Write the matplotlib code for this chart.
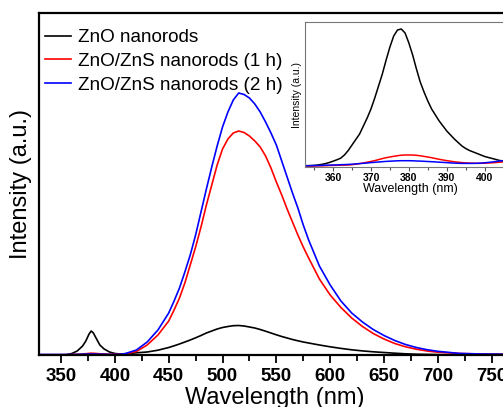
import numpy as np
import matplotlib
matplotlib.use('Agg')
import matplotlib.pyplot as plt
from matplotlib.ticker import MultipleLocator

plt.rcParams['font.family'] = ['Liberation Sans', 'DejaVu Sans']

# main spectra (wavelength in nm, intensity in arbitrary units)
wl = [330, 340, 350, 355, 360, 365, 370, 373, 376, 378, 380, 383, 386, 390, 395,
      400, 405, 410, 420, 430, 440, 450, 455, 460, 465, 470, 475, 480, 485, 490,
      495, 500, 505, 510, 515, 520, 525, 530, 535, 540, 545, 550, 555, 560, 565,
      570, 575, 580, 590, 600, 610, 620, 630, 640, 650, 660, 670, 680, 690, 700,
      720, 740, 760]
zno = [0, 0, 0, 0.3, 1.5, 4, 9, 14, 21, 24, 22, 16, 10, 6, 3,
       1.5, 1, 1.2, 2.2, 3, 4.8, 7.5, 9.2, 11, 13, 15, 17.2, 19.5, 22, 24,
       26, 27.5, 28.5, 29.3, 29.5, 29, 28, 27, 25.5, 23.8, 22, 20.2, 18.5, 17, 15.5,
       14.2, 13, 12, 10, 8.2, 6.6, 5.2, 4.1, 3.2, 2.5, 1.8, 1.2, 0.8, 0.6, 0.4,
       0.2, 0.1, 0.1]
zns_1h = [0.3, 0.3, 0.3, 0.4, 0.5, 0.7, 1.0, 1.3, 1.6, 1.8, 1.7, 1.5, 1.2, 1.0, 0.8,
          0.7, 0.8, 1.2, 3.5, 10, 20, 34, 45, 57, 72, 90, 108, 128, 150, 170,
          190, 206, 216, 222, 224, 222.5, 219, 214, 208, 199, 187, 173, 160, 146, 133,
          120, 108, 97, 76, 60, 47.5, 37, 28.5, 21.5, 16, 11.5, 8.2, 5.8, 4.0, 2.8,
          1.5, 1, 0.8]
zns_2h = [0.5, 0.5, 0.5, 0.5, 0.5, 0.6, 0.8, 0.9, 1.0, 1.0, 1.0, 0.9, 0.8, 0.8, 0.6,
          0.5, 0.8, 1.5, 5, 13, 25, 42, 54, 67, 83, 100, 120, 143, 166, 188,
          209, 228, 243, 255, 262, 260.5, 257, 251, 243, 233, 222, 210, 194, 178, 162,
          147, 130, 115, 89, 70, 54, 42, 33, 25.5, 19.5, 14.5, 10.5, 7.5, 5.3, 3.7,
          1.6, 1, 0.8]

# inset: UV band, 1 nm steps
wl_in = list(range(352, 407))
zno_in = [0.2, 0.3, 0.4, 0.6, 1.0, 1.6, 2.4, 3.5, 4.8, 6.2, 7.8, 11, 15.5, 21, 26.5,
          32, 40, 48, 57, 68, 80, 92, 106, 119, 130, 136, 137, 133, 123, 111,
          97, 84, 74, 65, 57, 51, 45, 40, 35, 31, 27, 23.5, 20, 17.5, 15.5,
          14, 12.5, 11, 9.5, 8.5, 7.5, 6.5, 5.5, 5, 4.5]
zns_1h_in = [0, 0, 0, 0, 0.1, 0.2, 0.3, 0.5, 0.6, 0.7, 0.8, 0.9, 1.0, 1.3, 1.8,
             2.4, 3.0, 3.8, 4.5, 5.4, 6.4, 7.4, 8.3, 9.0, 9.7, 10.3, 10.8, 11, 11, 11,
             10.7, 10.2, 9.6, 9.0, 8.3, 7.5, 6.7, 6.0, 5.4, 4.8, 4.2, 3.8, 3.4, 3.1, 2.9,
             2.8, 2.7, 2.7, 2.8, 3.0, 3.2, 3.5, 3.8, 4.1, 4.4]
zns_2h_in = [0.2, 0.3, 0.3, 0.4, 0.5, 0.6, 0.8, 0.9, 1.0, 1.1, 1.3, 1.4, 1.6, 1.8, 2.1,
             2.4, 2.7, 3.0, 3.4, 3.7, 4.0, 4.3, 4.6, 4.8, 5.0, 5.2, 5.3, 5.3, 5.3, 5.2,
             5.0, 4.9, 4.7, 4.5, 4.3, 4.1, 3.8, 3.6, 3.4, 3.1, 2.9, 2.7, 2.6, 2.6, 2.6,
             2.6, 2.7, 2.9, 3.2, 3.6, 4.0, 4.5, 5.0, 5.4, 5.8]

labels = ['ZnO nanorods', 'ZnO/ZnS nanorods (1 h)', 'ZnO/ZnS nanorods (2 h)']
colors = ['black', '#ff0000', '#0000ff']

W, H = 503, 407
fig = plt.figure(figsize=(W / 100, H / 100), dpi=100)

# main axes (right edge runs off the figure, as in the original)
ax = fig.add_axes([39 / W, 1 - 355 / H, 472 / W, 342 / H])
for y, c, lab in zip([zno, zns_1h, zns_2h], colors, labels):
    ax.plot(wl, y, color=c, lw=1.2, label=lab)
ax.set_xlim(329.5, 768)
ax.set_ylim(0, 342)
ax.xaxis.set_major_locator(MultipleLocator(50))
ax.xaxis.set_minor_locator(MultipleLocator(25))
ax.set_yticks([])
ax.tick_params(axis='x', which='major', direction='out', length=6, width=1.3,
               labelsize=13.5)
ax.tick_params(axis='x', which='minor', direction='out', length=4, width=1.3)
for t in ax.get_xticklabels():
    t.set_fontweight('bold')
for s in ax.spines.values():
    s.set_linewidth(1.6)
ax.set_xlabel('Wavelength (nm)', fontsize=17, labelpad=1)
ax.set_ylabel('Intensity (a.u.)', fontsize=17, labelpad=5)

ax.legend(loc='upper left', bbox_to_anchor=(45 / W, 1 - 29 / H),
          bbox_transform=fig.transFigure, frameon=False, fontsize=13.6,
          handlelength=1.35, handletextpad=0.4, labelspacing=0.34,
          borderpad=0, borderaxespad=0)

# inset
axi = fig.add_axes([305 / W, 1 - 167 / H, 210 / W, 145 / H])
for y, c in zip([zno_in, zns_1h_in, zns_2h_in], colors):
    axi.plot(wl_in, y, color=c, lw=1.1)
axi.set_xlim(352.6, 408)
axi.set_ylim(-1, 144)
axi.xaxis.set_major_locator(MultipleLocator(10))
axi.xaxis.set_minor_locator(MultipleLocator(5))
axi.set_yticks([])
axi.tick_params(axis='x', which='major', direction='out', length=3, width=0.8,
                labelsize=7.5, pad=1.5, color='#555555')
axi.tick_params(axis='x', which='minor', direction='out', length=2, width=0.8,
                color='#555555')
for t in axi.get_xticklabels():
    t.set_fontweight('bold')
for s in axi.spines.values():
    s.set_linewidth(0.8)
    s.set_color('#777777')
axi.set_xlabel('Wavelength (nm)', fontsize=9, labelpad=0)
axi.set_ylabel('Intensity (a.u.)', fontsize=7.5, labelpad=2)

fig.savefig('out.png', dpi=100)
